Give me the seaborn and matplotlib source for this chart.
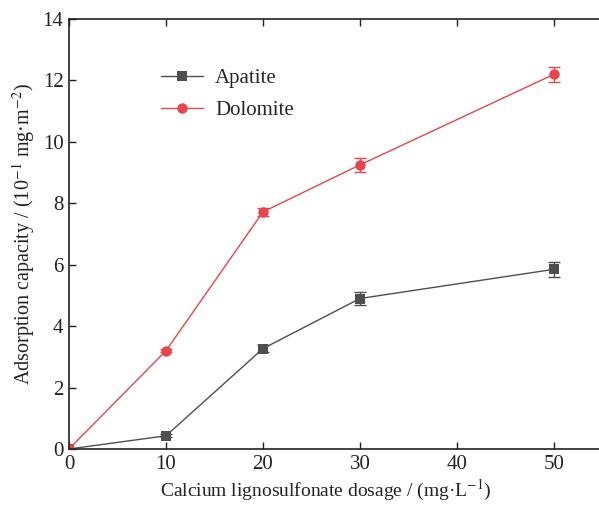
import matplotlib
matplotlib.use("Agg")
import matplotlib.pyplot as plt
import seaborn as sns
import pandas as pd

dosage = [0, 10, 20, 30, 50]
apatite = [0.0, 0.43, 3.27, 4.90, 5.85]
apatite_err = [0.0, 0.05, 0.10, 0.22, 0.25]
dolomite = [0.0, 3.20, 7.72, 9.25, 12.20]
dolomite_err = [0.0, 0.05, 0.12, 0.22, 0.25]
x_ticks = [0, 10, 20, 30, 40, 50]
y_ticks = [0, 2, 4, 6, 8, 10, 12, 14]

sns.set_theme(style="white")
plt.rcParams['font.family'] = ['Liberation Serif', 'DejaVu Serif']
plt.rcParams['mathtext.fontset'] = 'stix'

df = pd.DataFrame({
    "dosage": dosage * 2,
    "value": apatite + dolomite,
    "series": ["Apatite"] * len(dosage) + ["Dolomite"] * len(dosage),
})

c_ap = "#4f4f4f"
c_do = "#e8444b"

fig = plt.figure(figsize=(5.99, 5.05), dpi=100)
ax = fig.add_axes([69/599, 1 - 449/505, (9.7*56)/599, (449-19)/505])

sns.lineplot(data=df, x="dosage", y="value", hue="series", style="series",
             markers={"Apatite": "s", "Dolomite": "o"}, dashes=False,
             palette={"Apatite": c_ap, "Dolomite": c_do},
             markersize=7.5, markeredgewidth=0, linewidth=1.0, ax=ax, errorbar=None)

ax.errorbar(dosage, apatite, yerr=apatite_err, fmt="none", ecolor=c_ap,
            elinewidth=1.0, capsize=4, capthick=1.0, zorder=1)
ax.errorbar(dosage, dolomite, yerr=dolomite_err, fmt="none", ecolor=c_do,
            elinewidth=1.0, capsize=4, capthick=1.0, zorder=1)

ax.set_xlim(0, 56)
ax.set_ylim(0, 14)
ax.set_xticks(x_ticks)
ax.set_yticks(y_ticks)
ax.tick_params(direction="in", length=5, width=1, labelsize=15, colors="#222222",
               top=True, right=True, bottom=True, left=True, pad=4)
for s in ax.spines.values():
    s.set_color("#222222")
    s.set_linewidth(1.2)

ax.set_xlabel("Calcium lignosulfonate dosage / (mg·L$^{-1}$)", fontsize=14, color="#222222")
ax.set_ylabel("Adsorption capacity / (10$^{-1}$ mg·m$^{-2}$)", fontsize=14.5, color="#222222")
ax.xaxis.set_label_coords(0.473, -0.068)
ax.yaxis.set_label_coords(-0.059, 0.5)

leg = ax.legend(loc="upper left", bbox_to_anchor=(0.135, 0.928), frameon=False,
                fontsize=15, handlelength=2.0, labelspacing=0.6, handletextpad=0.6)
leg.set_title(None)

fig.savefig("out.png", dpi=100)
